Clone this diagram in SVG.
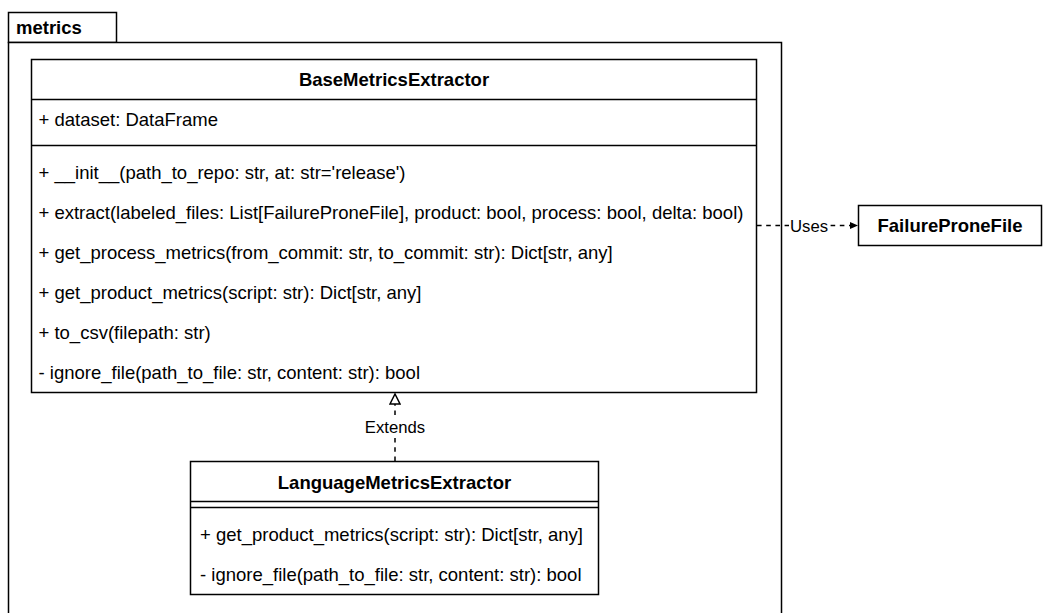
<svg xmlns="http://www.w3.org/2000/svg" width="1052" height="613" viewBox="0 0 1052 613">
  <style>
    .frame { fill: #ffffff; stroke: #000000; stroke-width: 1.5; }
    .line { fill: none; stroke: #000000; stroke-width: 1.5; }
    .dash { fill: none; stroke: #000000; stroke-width: 1.5; stroke-dasharray: 4.6 4.6; }
    .txt { font-family: "Liberation Sans", Arial, sans-serif; font-size: 18.5px; fill: #000000; }
    .bold { font-weight: bold; }
    .mid { text-anchor: middle; }
    .lbl { font-family: "Liberation Sans", Arial, sans-serif; font-size: 16.7px; fill: #000000; text-anchor: middle; }
  </style>
  <defs>
    <marker id="arrowFilled" viewBox="0 0 8 8" refX="8" refY="4" markerWidth="8" markerHeight="8" markerUnits="userSpaceOnUse" orient="auto">
      <path d="M0,0.5 L8,4 L0,7.5 Z" fill="#000000"/>
    </marker>
    <marker id="arrowHollow" viewBox="0 0 12 12" refX="11" refY="6" markerWidth="12" markerHeight="12" markerUnits="userSpaceOnUse" orient="auto">
      <path d="M1,1 L11,6 L1,11 Z" fill="#ffffff" stroke="#000000" stroke-width="1.5"/>
    </marker>
  </defs>

  <rect width="1052" height="613" fill="#ffffff"/>

  <!-- package: metrics -->
  <g id="pkg-metrics">
    <rect class="frame" x="8.5" y="12.5" width="108" height="30"/>
    <rect class="frame" x="8.5" y="42.5" width="773" height="600"/>
    <text class="txt bold" x="16" y="34">metrics</text>
  </g>

  <!-- class: BaseMetricsExtractor -->
  <g id="BaseMetricsExtractor">
    <rect class="frame" x="31.5" y="59.5" width="725" height="333"/>
    <line class="line" x1="31.5" y1="99.5" x2="756.5" y2="99.5"/>
    <line class="line" x1="31.5" y1="145.5" x2="756.5" y2="145.5"/>
    <text class="txt bold mid" x="394" y="86">BaseMetricsExtractor</text>
    <text class="txt" x="38.5" y="126">+ dataset: DataFrame</text>
    <text class="txt" x="38.5" y="178.5">+ __init__(path_to_repo: str, at: str='release')</text>
    <text class="txt" x="38.5" y="218.5">+ extract(labeled_files: List[FailureProneFile], product: bool, process: bool, delta: bool)</text>
    <text class="txt" x="38.5" y="258.5">+ get_process_metrics(from_commit: str, to_commit: str): Dict[str, any]</text>
    <text class="txt" x="38.5" y="298.5">+ get_product_metrics(script: str): Dict[str, any]</text>
    <text class="txt" x="38.5" y="339">+ to_csv(filepath: str)</text>
    <text class="txt" x="38.5" y="379">- ignore_file(path_to_file: str, content: str): bool</text>
  </g>

  <!-- class: LanguageMetricsExtractor -->
  <g id="LanguageMetricsExtractor">
    <rect class="frame" x="190.5" y="461.5" width="408" height="133"/>
    <line class="line" x1="190.5" y1="501.5" x2="598.5" y2="501.5"/>
    <line class="line" x1="190.5" y1="507.5" x2="598.5" y2="507.5"/>
    <text class="txt bold mid" x="394.5" y="488.5">LanguageMetricsExtractor</text>
    <text class="txt" x="200" y="541">+ get_product_metrics(script: str): Dict[str, any]</text>
    <text class="txt" x="200" y="581">- ignore_file(path_to_file: str, content: str): bool</text>
  </g>

  <!-- class: FailureProneFile -->
  <g id="FailureProneFile">
    <rect class="frame" x="858.5" y="205.5" width="183" height="40"/>
    <text class="txt bold mid" x="950" y="232">FailureProneFile</text>
  </g>

  <!-- connectors -->
  <g id="connectors">
    <!-- Uses: dependency -->
    <line class="dash" x1="757" y1="225.5" x2="858" y2="225.5" marker-end="url(#arrowFilled)"/>
    <rect x="789" y="217" width="40" height="17" fill="#ffffff"/>
    <text class="lbl" x="809" y="231.5">Uses</text>
    <!-- Extends: generalization -->
    <line class="dash" x1="395" y1="461" x2="395" y2="394" marker-end="url(#arrowHollow)"/>
    <rect x="364" y="418" width="62" height="18" fill="#ffffff"/>
    <text class="lbl" x="395" y="433">Extends</text>
  </g>
</svg>
